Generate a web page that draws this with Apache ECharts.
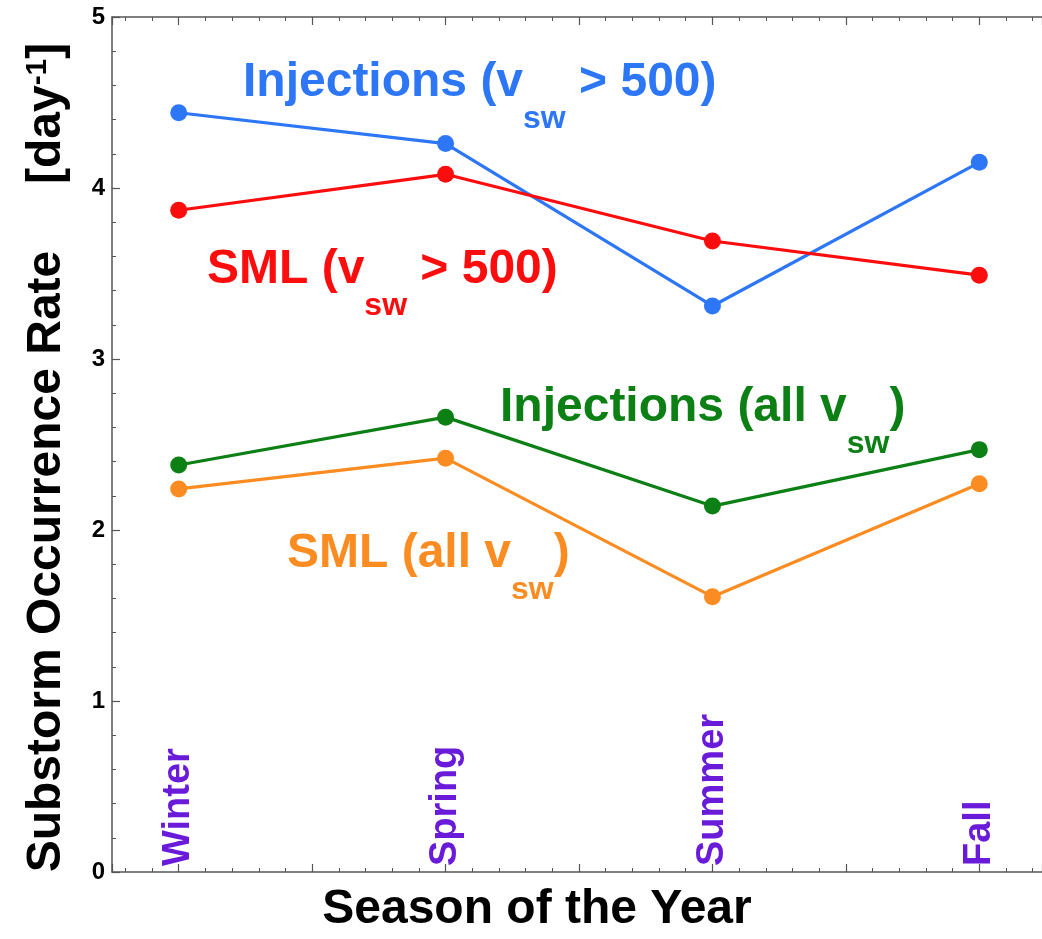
<!DOCTYPE html>
<html><head><meta charset="utf-8">
<script src="https://cdn.jsdelivr.net/npm/echarts@6/dist/echarts.min.js"></script>
<style>html,body{margin:0;padding:0;background:#fff}#c{width:1042px;height:939px}</style>
</head><body><div id="c"></div>
<script>
// ---- data ----
const seasons = ['Winter', 'Spring', 'Summer', 'Fall'];
const seasonPos = [1, 3, 5, 7];
const injFast = [4.44, 4.26, 3.31, 4.15];   // Injections (v_sw > 500)
const smlFast = [3.87, 4.08, 3.69, 3.49];   // SML (v_sw > 500)
const injAll  = [2.38, 2.66, 2.14, 2.47];   // Injections (all v_sw)
const smlAll  = [2.24, 2.42, 1.61, 2.27];   // SML (all v_sw)
const yMin = 0, yMax = 5, yStep = 1;

const FONT = "'Liberation Sans', Arial, Helvetica, sans-serif";
const C = { blue: '#2d77f6', red: '#fc0d0d', green: '#0c7f15', orange: '#fb8c22', purple: '#6a1bd9' };

const pts = arr => arr.map((v, i) => [seasonPos[i], v]);
const seasonName = v => { const i = seasonPos.indexOf(Math.round(v * 1000) / 1000); return i >= 0 ? seasons[i] : ''; };

function mkSeries(name, arr, color) {
  return {
    name, type: 'line', data: pts(arr), symbol: 'circle', symbolSize: 17,
    lineStyle: { color, width: 3.2 }, itemStyle: { color }, z: 3, animation: false
  };
}

const axisLineStyle = { color: '#555', width: 1.5 };
const xCommon = {
  type: 'value', min: 0.5, max: 7.47, minInterval: 1, maxInterval: 1, splitNumber: 7,
  splitLine: { show: false },
  axisLine: { show: true, lineStyle: axisLineStyle },
  axisTick: { show: true, inside: true, length: 8, lineStyle: { color: '#555', width: 1.2 } },
  minorTick: { show: true, splitNumber: 5, length: 4, lineStyle: { color: '#555', width: 1 } }
};

function rt(color, parts) {
  return {
    fill: color,
    text: parts,
    rich: {
      a: { fontFamily: FONT, fontWeight: 'bold', fontSize: 48, lineHeight: 48, verticalAlign: 'top', fill: color },
      b: { fontFamily: FONT, fontWeight: 'bold', fontSize: 32, lineHeight: 32, padding: [44, 0, 0, 0], verticalAlign: 'top', fill: color }
    }
  };
}

const option = {
  animation: false,
  backgroundColor: '#fff',
  grid: { left: 112, right: 0, top: 17, bottom: 62, containLabel: false },
  xAxis: [
    Object.assign({}, xCommon, {
      position: 'bottom',
      axisLabel: {
        show: true, inside: true, rotate: 90, margin: 6, formatter: seasonName,
        color: C.purple, fontFamily: FONT, fontWeight: 'bold', fontSize: 38
      },
      name: 'Season of the Year', nameLocation: 'middle', nameGap: 14,
      nameTextStyle: { color: '#000', fontFamily: FONT, fontWeight: 'bold', fontSize: 48, lineHeight: 48, verticalAlign: 'top', padding: [0, 80, 0, 0] }
    }),
    Object.assign({}, xCommon, { position: 'top', axisLabel: { show: false } })
  ],
  yAxis: [{
    type: 'value', min: yMin, max: yMax, interval: yStep,
    splitLine: { show: false },
    axisLine: { show: true, lineStyle: axisLineStyle },
    axisTick: { show: true, inside: true, length: 8, lineStyle: { color: '#555', width: 1.2 } },
    minorTick: { show: true, splitNumber: 5, length: 4, lineStyle: { color: '#555', width: 1 } },
    axisLabel: { color: '#000', fontFamily: FONT, fontWeight: 'bold', fontSize: 24, margin: 7 },
    name: 'Substorm Occurrence Rate     [day{sup|-1}]',
    nameLocation: 'middle', nameRotate: 90, nameGap: 40,
    nameTextStyle: {
      color: '#000', fontFamily: FONT, fontWeight: 'bold', fontSize: 48, lineHeight: 48,
      padding: [0, 26, 0, 0],
      rich: { sup: { color: '#000', fontFamily: FONT, fontWeight: 'bold', fontSize: 30, lineHeight: 30, padding: [0, 0, 28, 0], verticalAlign: 'top' } }
    }
  }],
  series: [
    mkSeries('Injections (v_sw > 500)', injFast, C.blue),
    mkSeries('SML (v_sw > 500)', smlFast, C.red),
    mkSeries('Injections (all v_sw)', injAll, C.green),
    mkSeries('SML (all v_sw)', smlAll, C.orange)
  ],
  graphic: [
    { type: 'text', x: 243, y: 59, z: 10, style: rt(C.blue, '{a|Injections (v}{b|sw}{a| > 500)}') },
    { type: 'text', x: 207, y: 246, z: 10, style: rt(C.red, '{a|SML (v}{b|sw}{a| > 500)}') },
    { type: 'text', x: 500, y: 384, z: 10, style: rt(C.green, '{a|Injections (all v}{b|sw}{a|)}') },
    { type: 'text', x: 287, y: 530, z: 10, style: rt(C.orange, '{a|SML (all v}{b|sw}{a|)}') }
  ]
};

const chart = echarts.init(document.getElementById('c'), null, { renderer: 'canvas' });
chart.setOption(option);
</script>
</body></html>
